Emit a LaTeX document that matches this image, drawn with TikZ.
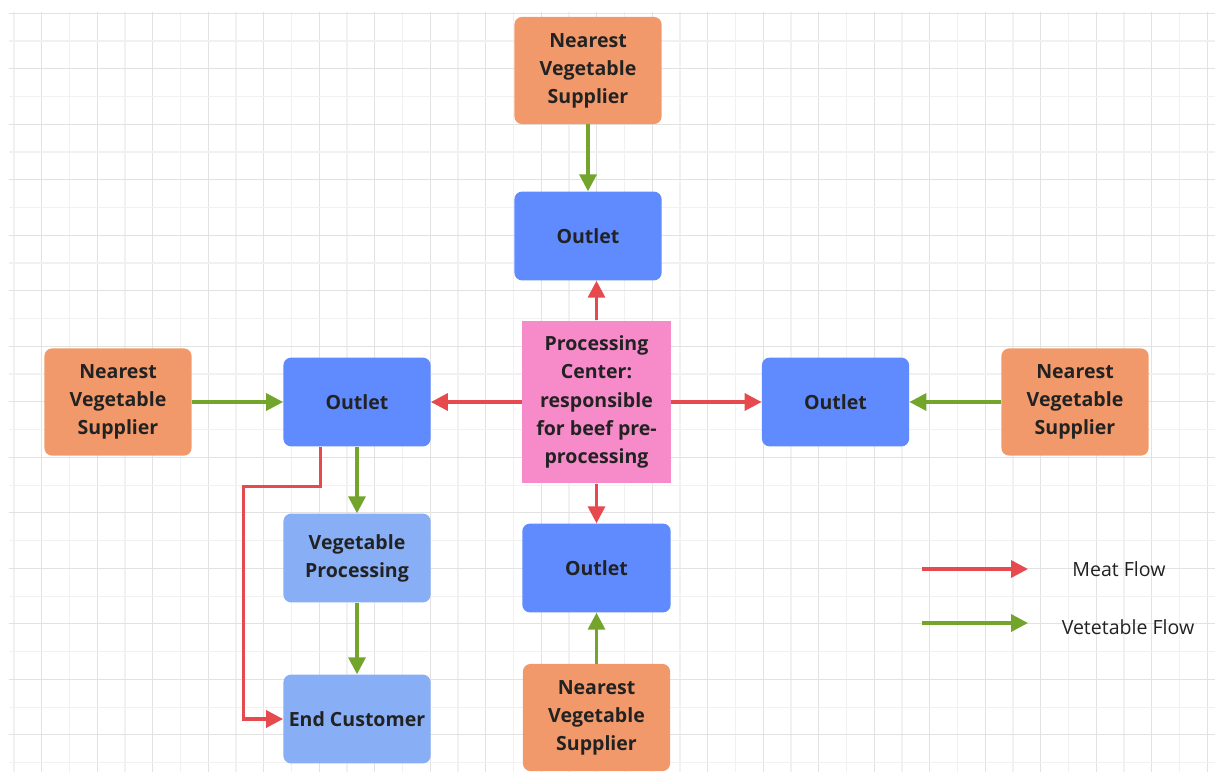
\documentclass[tikz,border=0pt]{standalone}
\usepackage{fontspec}
\setmainfont{Open Sans}
\usetikzlibrary{arrows.meta}
\definecolor{supplierfill}{HTML}{F2996B}
\definecolor{outletfill}{HTML}{608BFF}
\definecolor{procfill}{HTML}{88AEF5}
\definecolor{centerfill}{HTML}{F78AC9}
\definecolor{meatred}{HTML}{E64A4E}
\definecolor{vegreen}{HTML}{73A52C}
\definecolor{boxtext}{HTML}{222222}
\definecolor{gridmaj}{HTML}{E2E2E2}
\definecolor{gridmin}{HTML}{F1F1F1}
\begin{document}
\begin{tikzpicture}[x=0.025cm,y=-0.025cm,
        meat/.style={draw=meatred,line width=2.4pt,-{Triangle[length=12pt,width=12pt]}},
        veg/.style={draw=vegreen,line width=2.4pt,-{Triangle[length=12pt,width=12pt]}}]
    \useasboundingbox (0,0) rectangle (1215,772);
    \foreach \i in {0,...,43}{
        \pgfmathsetmacro\gx{14+27.75*\i}
        \ifodd\i \draw[gridmaj,line width=0.8pt] (\gx,12) -- (\gx,772);
        \else \draw[gridmin,line width=0.8pt] (\gx,12) -- (\gx,772); \fi
    }
    \foreach \j in {0,...,27}{
        \pgfmathsetmacro\gy{13.3+27.75*\j}
        \ifodd\j \draw[gridmin,line width=0.8pt] (9,\gy) -- (1215,\gy);
        \else \draw[gridmaj,line width=0.8pt] (9,\gy) -- (1215,\gy); \fi
    }

    \begin{scope}[every node/.style={rounded corners=5.5pt,inner sep=0pt,align=center,
                text=boxtext,font=\fontsize{13.9}{20}\selectfont\bfseries,
                minimum width=3.68cm,minimum height=2.22cm}]
        \node[fill=supplierfill,minimum height=2.68cm] (supN) at (588,70.5) {Nearest\\Vegetable\\Supplier};
        \node[fill=supplierfill,minimum height=2.68cm] (supW) at (118,402) {Nearest\\Vegetable\\Supplier};
        \node[fill=supplierfill,minimum height=2.68cm] (supE) at (1075,402) {Nearest\\Vegetable\\Supplier};
        \node[fill=supplierfill,minimum height=2.68cm] (supS) at (596.5,717.5) {Nearest\\Vegetable\\Supplier};
        \node[fill=outletfill] (outN) at (588,236) {Outlet};
        \node[fill=outletfill] (outW) at (357,402) {Outlet};
        \node[fill=outletfill] (outE) at (835.5,402) {Outlet};
        \node[fill=outletfill,minimum width=3.71cm] (outS) at (596.5,568) {Outlet};
        \node[fill=procfill] (vegproc) at (357,558) {Vegetable\\Processing};
        \node[fill=procfill] (customer) at (357,719) {End Customer};
        \node[fill=centerfill,rounded corners=0pt,minimum width=3.71cm,minimum height=4.07cm]
            (center) at (596.5,402) {Processing\\Center:\\responsible\\for beef pre-\\processing};
    \end{scope}

    \coordinate (dropM) at (320.7,446.7);
    \coordinate (bendM) at (243.3,486.7);
    \coordinate (meatA) at (922,569);
    \coordinate (meatB) at (1028,569);
    \coordinate (vegA) at (922,623);
    \coordinate (vegB) at (1028,623);

    \draw[meat] (center.north) -- (center.north |- outN.south);
    \draw[meat] (center.west) -- (outW.east);
    \draw[meat] (center.east) -- (outE.west);
    \draw[meat] (center.south) -- (outS.north);
    \draw[meat] (dropM) |- (bendM) |- (customer.west);

    \draw[veg] (supN) -- (outN);
    \draw[veg] (supW) -- (outW);
    \draw[veg] (supE) -- (outE);
    \draw[veg] (supS) -- (outS);
    \draw[veg] (outW) -- (vegproc);
    \draw[veg] (vegproc) -- (customer);

    \draw[meat] (meatA) -- (meatB);
    \draw[veg] (vegA) -- (vegB);
    \node[font=\fontsize{13.9}{16}\selectfont,text=boxtext] (meatlbl) at (1119,569) {Meat Flow};
    \node[font=\fontsize{13.9}{16}\selectfont,text=boxtext] (veglbl) at (1128,627) {Vetetable Flow};
\end{tikzpicture}
\end{document}
